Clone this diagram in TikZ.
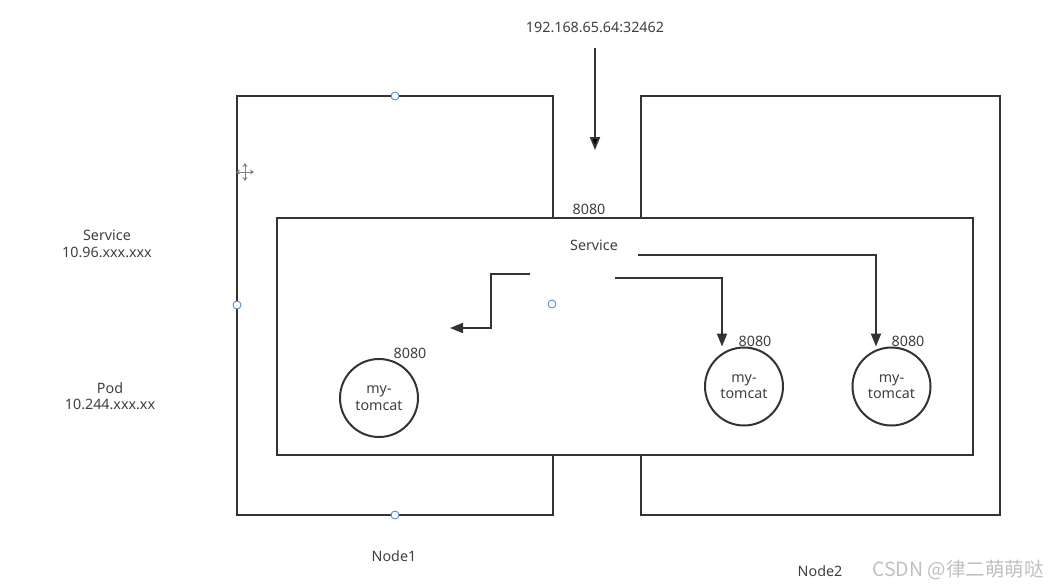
\documentclass[tikz,border=0pt]{standalone}
\usepackage{fontspec}
\setmainfont{Noto Sans}
\newfontfamily\cjk{Noto Sans CJK SC}
\usepackage{xcolor}
\usepackage{tikz}
\usetikzlibrary{arrows.meta,shapes}

\definecolor{ink}{HTML}{333333}
\definecolor{txt}{HTML}{404040}
\definecolor{handle}{HTML}{4A7FD6}
\definecolor{mark}{HTML}{C0C0C0}

\tikzset{
	hostbox/.style={draw=ink,line width=2.2pt,rectangle,inner sep=0pt},
	podnode/.style={draw=ink,line width=2pt,circle,minimum size=78pt,inner sep=0pt,
		align=center,font=\fontsize{14.3}{16.5}\selectfont,text=txt},
	lbl/.style={font=\fontsize{14.3}{16.5}\selectfont,text=txt,align=center},
	flow/.style={draw=ink,line width=2pt,-{Triangle[length=13pt,width=10pt]}},
	grip/.style={draw=handle,fill=white,circle,line width=0.8pt,minimum size=8pt,inner sep=0pt}
}

\begin{document}
\begin{tikzpicture}[x=1pt,y=-1pt]
		\useasboundingbox (0,0) rectangle (1052,587);
		% hosts
		\node[hostbox,minimum width=316pt,minimum height=419pt] (N1) at (395,305.5) {};
		\node[hostbox,minimum width=359pt,minimum height=419pt] (N2) at (820.5,305.5) {};
		\node[hostbox,fill=white,minimum width=696pt,minimum height=237pt] (S) at (625,336.5) {};
		%
		\node[lbl] (ip) at (595,27) {192.168.65.64:32462};
		\node[lbl] (sp) at (589,209) {8080};
		\node[lbl] (sv) at (594,245) {Service};
		\node[lbl] (n1) at (394,556) {Node1};
		\node[lbl] (n2) at (820,571) {Node2};
		\node[lbl] (sl) at (107,244) {Service\\10.96.xxx.xxx};
		\node[lbl] (pl) at (110,396) {Pod\\10.244.xxx.xx};
		%
		\node[podnode] (P1) at (379,398) {my-\\tomcat};
		\node[podnode] (P2) at (744,386.5) {my-\\tomcat};
		\node[podnode] (P3) at (891.5,386.5) {my-\\tomcat};
		\node[lbl] (p1) at (410,353) {8080};
		\node[lbl] (p2) at (755,341) {8080};
		\node[lbl] (p3) at (908,341) {8080};
		%
		\coordinate (in) at (595,150);
		\coordinate (a0) at (530,274);
		\coordinate (a1) at (491,274);
		\coordinate (a2) at (491,328);
		\coordinate (a3) at (450,328);
		\coordinate (b0) at (615,278);
		\coordinate (b1) at (722,278);
		\coordinate (c0) at (638,255);
		\coordinate (c1) at (876,255);
		%
		% incoming request
		\path[flow] (ip) edge[shorten <=12pt] (in);
		% service to pods
		\draw[flow] (a0) -- (a1) -- (a2) -- (a3);
		\draw[flow] (b0) -- (b1) -- (b1 |- P2.north);
		\draw[flow] (c0) -- (c1) -- (c1 |- P3.north);
		%
		% selection handles
		\node[grip] (h1) at (395,96) {};
		\node[grip] (h2) at (237,305) {};
		\node[grip] (h3) at (395,515) {};
		\node[grip] (h4) at (552,304) {};
		\draw[gray,line width=0.8pt,{Stealth[length=4pt,width=5pt]}-{Stealth[length=4pt,width=5pt]}] (236,172) -- (254,172);
		\draw[gray,line width=0.8pt,{Stealth[length=4pt,width=5pt]}-{Stealth[length=4pt,width=5pt]}] (245,163) -- (245,181);
		%
		\node[font=\cjk\fontsize{19.5}{22}\selectfont,text=mark] (wm) at (958,570) {CSDN @律二萌萌哒};
	\end{tikzpicture}
\end{document}
